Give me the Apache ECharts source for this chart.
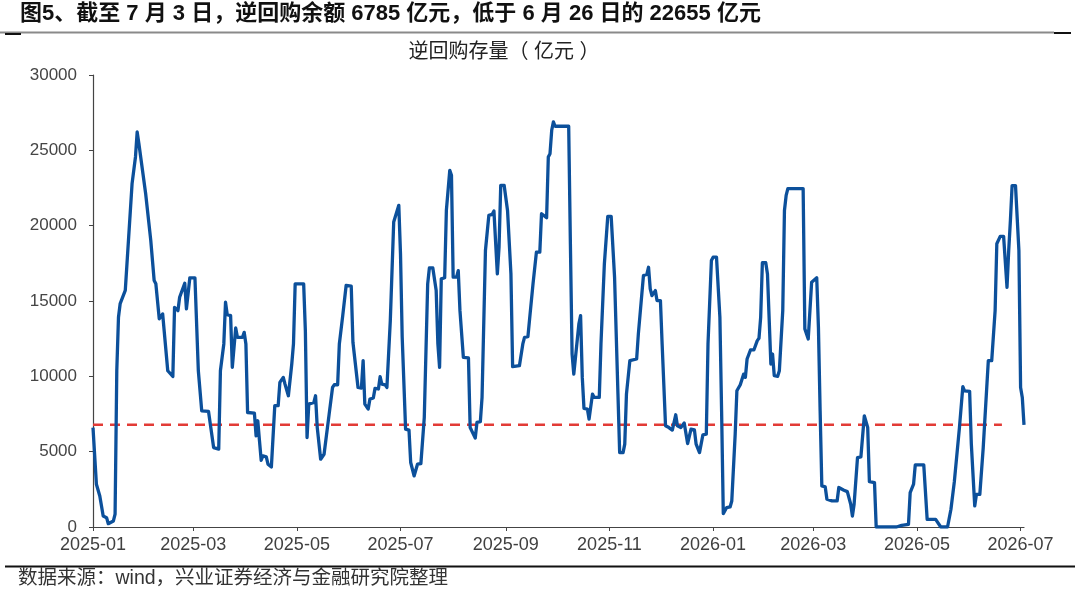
<!DOCTYPE html>
<html><head><meta charset="utf-8">
<script src="https://cdn.jsdelivr.net/npm/echarts@6/dist/echarts.min.js"></script>
<style>html,body{margin:0;padding:0;background:#fff}#c{width:1080px;height:591px}</style>
</head><body><div id="c"></div>
<script>
const dates = [
'2025-01-01','2025-01-03','2025-01-05','2025-01-07','2025-01-09','2025-01-10','2025-01-13','2025-01-14','2025-01-15','2025-01-16','2025-01-17','2025-01-20','2025-01-24','2025-01-26','2025-01-27','2025-01-28',
'2025-02-01','2025-02-04','2025-02-06','2025-02-07','2025-02-09','2025-02-11','2025-02-14','2025-02-17','2025-02-18','2025-02-20','2025-02-21','2025-02-24','2025-02-25','2025-02-26','2025-02-27',
'2025-03-02','2025-03-04','2025-03-06','2025-03-10','2025-03-13','2025-03-16','2025-03-17','2025-03-19','2025-03-20','2025-03-21','2025-03-23','2025-03-24','2025-03-26','2025-03-27','2025-03-30','2025-03-31',
'2025-04-01','2025-04-02','2025-04-06','2025-04-07','2025-04-08','2025-04-09','2025-04-10','2025-04-11','2025-04-13','2025-04-14','2025-04-16','2025-04-18','2025-04-20','2025-04-21','2025-04-23','2025-04-24','2025-04-26','2025-04-28','2025-04-29','2025-04-30',
'2025-05-05','2025-05-06','2025-05-07','2025-05-08','2025-05-09','2025-05-11','2025-05-12','2025-05-13','2025-05-15','2025-05-17','2025-05-18','2025-05-20','2025-05-22','2025-05-23','2025-05-25','2025-05-26','2025-05-28','2025-05-30',
'2025-06-02','2025-06-03','2025-06-04','2025-06-06','2025-06-08','2025-06-09','2025-06-10','2025-06-12','2025-06-13','2025-06-15','2025-06-16','2025-06-18','2025-06-19','2025-06-20','2025-06-22','2025-06-23','2025-06-25','2025-06-27','2025-06-28','2025-06-30',
'2025-07-01','2025-07-02','2025-07-04','2025-07-06','2025-07-07','2025-07-09','2025-07-11','2025-07-13','2025-07-15','2025-07-17','2025-07-18','2025-07-20','2025-07-22','2025-07-23','2025-07-24','2025-07-25','2025-07-27','2025-07-28','2025-07-30','2025-07-31',
'2025-08-01','2025-08-03','2025-08-04','2025-08-05','2025-08-07','2025-08-10','2025-08-11','2025-08-14','2025-08-15','2025-08-17','2025-08-18','2025-08-20','2025-08-22','2025-08-24','2025-08-25','2025-08-27','2025-08-28','2025-08-29','2025-08-31',
'2025-09-02','2025-09-04','2025-09-05','2025-09-09','2025-09-11','2025-09-12','2025-09-14','2025-09-15','2025-09-17','2025-09-19','2025-09-21','2025-09-22','2025-09-25','2025-09-26','2025-09-27','2025-09-28','2025-09-29','2025-09-30',
'2025-10-08','2025-10-09','2025-10-10','2025-10-11','2025-10-12','2025-10-14','2025-10-15','2025-10-16','2025-10-17','2025-10-19','2025-10-20','2025-10-22','2025-10-23','2025-10-26','2025-10-27','2025-10-29','2025-10-31',
'2025-11-02','2025-11-04','2025-11-06','2025-11-07','2025-11-09','2025-11-10','2025-11-11','2025-11-13','2025-11-14','2025-11-17','2025-11-18','2025-11-19','2025-11-21','2025-11-23','2025-11-24','2025-11-25','2025-11-26','2025-11-28','2025-11-29',
'2025-12-01','2025-12-02','2025-12-04','2025-12-06','2025-12-08','2025-12-10','2025-12-11','2025-12-13','2025-12-15','2025-12-17','2025-12-19','2025-12-21','2025-12-22','2025-12-24','2025-12-26','2025-12-28','2025-12-29','2025-12-31',
'2026-01-01','2026-01-03','2026-01-05','2026-01-06','2026-01-07','2026-01-09','2026-01-11','2026-01-12','2026-01-14','2026-01-15','2026-01-17','2026-01-18','2026-01-19','2026-01-20','2026-01-21','2026-01-23','2026-01-25','2026-01-27','2026-01-28','2026-01-29','2026-01-30',
'2026-02-01','2026-02-02','2026-02-04','2026-02-05','2026-02-06','2026-02-08','2026-02-09','2026-02-11','2026-02-12','2026-02-13','2026-02-14','2026-02-23','2026-02-24','2026-02-25','2026-02-26','2026-02-28',
'2026-03-01','2026-03-03','2026-03-04','2026-03-05','2026-03-06','2026-03-08','2026-03-09','2026-03-12','2026-03-15','2026-03-16','2026-03-17','2026-03-19','2026-03-21','2026-03-22','2026-03-23','2026-03-24','2026-03-25','2026-03-27','2026-03-29','2026-03-30','2026-03-31',
'2026-04-01','2026-04-02','2026-04-03','2026-04-06','2026-04-07','2026-04-19','2026-04-22','2026-04-26','2026-04-27','2026-04-29','2026-04-30',
'2026-05-05','2026-05-07','2026-05-12','2026-05-15','2026-05-19','2026-05-21','2026-05-23','2026-05-24','2026-05-26','2026-05-28','2026-05-29',
'2026-06-01','2026-06-02','2026-06-04','2026-06-05','2026-06-07','2026-06-09','2026-06-12','2026-06-14','2026-06-16','2026-06-17','2026-06-19','2026-06-21','2026-06-23','2026-06-24','2026-06-25','2026-06-26','2026-06-28','2026-06-30',
'2026-07-01','2026-07-02','2026-07-03'
];
const values = [
6600,2840,2060,730,620,220,400,860,10370,13920,14830,15700,22790,24560,26220,25460,
22120,19020,16360,16140,13810,14140,10370,9995,14580,14360,15250,16180,14480,14590,16540,
16540,10370,7710,7670,5270,5170,10370,12150,14920,14100,14030,10600,13210,12590,12590,12920,
12150,7600,7560,6050,7050,5720,4430,4720,4655,4170,3990,8050,8050,9600,9930,9490,8710,10820,12150,16140,
16140,13030,5940,8160,8270,8270,8710,6600,4500,4830,4830,7490,9260,9440,9440,12150,14030,16030,
15980,12260,12150,9260,9220,11040,8160,7830,8490,8560,9200,9160,9975,9490,9440,9260,13700,20240,20240,21350,
18130,12590,6500,6430,4280,3390,4170,4210,7270,16140,17200,17200,15690,12150,10600,16470,16540,21010,23670,23340,
16580,16580,17020,14360,11260,11220,6600,5900,6940,7000,8600,18350,20680,20750,20970,16800,18570,22680,22680,
21010,16800,10640,10710,12150,12590,12630,13810,16140,18240,18240,20790,20530,24560,24780,26330,26890,26600,
26600,18800,11480,10150,11260,13480,14030,9930,7870,7830,7160,8820,8600,8600,12150,17470,20620,
20620,16580,8820,4940,4940,5500,8820,11040,11150,11150,12810,12920,16690,16760,17240,15810,15360,15690,15030,
15030,12150,6720,6600,6430,7450,6720,6600,6900,5540,6500,6450,5500,4940,6120,6160,12150,17690,
17910,17910,13920,7710,890,1290,1330,1730,6160,9040,9440,9440,10150,9930,11150,11750,11750,12370,12520,13920,17540,
17540,16800,10820,11480,10040,10000,10370,14360,21010,22010,22460,22460,13150,13250,12480,16250,
16360,16540,13250,7710,2730,2660,1840,1730,1730,2620,2660,2440,2350,2350,1510,730,1510,4610,4650,4610,7380,
7490,6600,3010,2950,0,0,110,180,2280,2840,4120,
4120,510,510,0,0,1180,3010,3010,6600,9310,9040,
9000,5500,1400,2170,2170,5270,11040,11040,14360,18800,19290,19290,15910,18350,20350,22655,22655,18350,
9260,8600,6785
];
const tickLabels = ['2025-01','2025-03','2025-05','2025-07','2025-09','2025-11','2026-01','2026-03','2026-05','2026-07'];
const yTicks = [0,5000,10000,15000,20000,25000,30000];
const refLevel = 6785;
const refStart = '2025-01-01', refEnd = '2026-06-20';
const xStart = '2025-01-01', xEnd = '2026-07-03';
const titleText = '图5、截至 7 月 3 日，逆回购余额 6785 亿元，低于 6 月 26 日的 22655 亿元';
const subTitle = '逆回购存量（ 亿元 ）';
const sourceText = '数据来源：wind，兴业证券经济与金融研究院整理';

function dayOf(s){const p=s.split('-').map(Number);return (Date.UTC(p[0],p[1]-1,p[2]||1)-Date.UTC(2025,0,1))/86400000;}
const tickDays = tickLabels.map(dayOf);
const seriesData = dates.map((d,i)=>[dayOf(d), values[i]]);
const FF = '"Liberation Sans", Arial, "Noto Sans CJK SC", sans-serif';
const chart = echarts.init(document.getElementById('c'), null, {renderer:'canvas'});
chart.setOption({
  animation:false,
  backgroundColor:'#fff',
  grid:{left:93, right:56, top:75, bottom:64, containLabel:false},
  xAxis:{type:'value', min:dayOf(xStart), max:dayOf(xEnd),
    axisLine:{show:true, onZero:false, lineStyle:{color:'#444', width:1.2}},
    axisTick:{show:true, customValues:tickDays, length:4, lineStyle:{color:'#444'}},
    axisLabel:{customValues:tickDays, margin:9, fontSize:18, color:'#404040', fontFamily:FF,
      formatter:v=>{const i=tickDays.indexOf(v);return i>=0?tickLabels[i]:'';}},
    splitLine:{show:false}},
  yAxis:{type:'value', min:yTicks[0], max:yTicks[yTicks.length-1], interval:5000,
    axisLine:{show:true, lineStyle:{color:'#444', width:1.2}},
    axisTick:{show:true, length:4, lineStyle:{color:'#444'}},
    axisLabel:{margin:16, fontSize:17, color:'#454545', fontFamily:FF, formatter:v=>String(v)},
    splitLine:{show:false}},
  series:[
    {type:'line', data:[[dayOf(refStart),refLevel],[dayOf(refEnd),refLevel]], showSymbol:false, silent:true,
      lineStyle:{color:'#e23b36', width:2.5, type:[10,7]}},
    {type:'line', data:seriesData, showSymbol:false, smooth:false,
      lineStyle:{color:'#0c509b', width:3.3, join:'round'}}
  ],
  graphic:[
    {type:'text', left:20, top:3, style:{text:titleText, font:'bold 22px '+FF, fill:'#111'}},
    {type:'line', shape:{x1:0,y1:32.5,x2:1054,y2:32.5}, style:{stroke:'#8a8a8a', lineWidth:2}},
    {type:'line', shape:{x1:1054,y1:33,x2:1071,y2:33}, style:{stroke:'#111', lineWidth:2}},
    {type:'line', shape:{x1:5,y1:34,x2:21,y2:34}, style:{stroke:'#111', lineWidth:2}},
    {type:'text', x:504, y:52, style:{text:subTitle, font:'20px '+FF, fill:'#222', align:'center', verticalAlign:'middle'}},
    {type:'line', shape:{x1:5,y1:566.5,x2:1075,y2:566.5}, style:{stroke:'#111', lineWidth:2}},
    {type:'text', x:18, y:579, style:{text:sourceText, font:'19.5px '+FF, fill:'#333', verticalAlign:'middle'}}
  ]
});
</script></body></html>
